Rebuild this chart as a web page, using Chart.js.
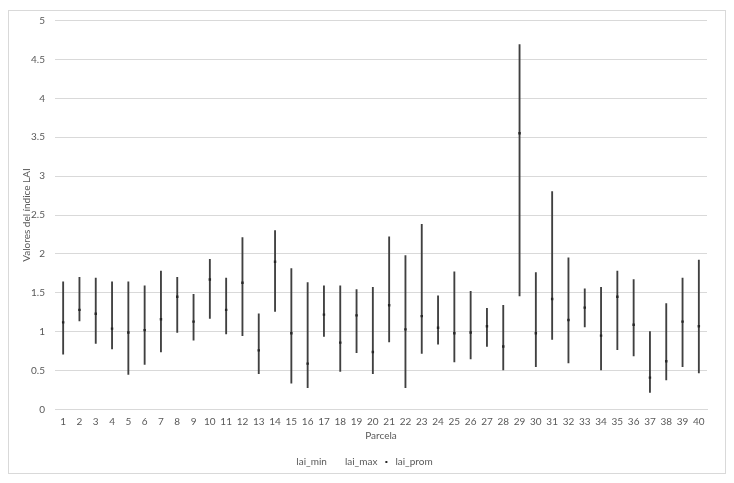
<!DOCTYPE html>
<html>
<head>
<meta charset="utf-8">
<script src="https://cdn.jsdelivr.net/npm/chart.js@4/dist/chart.umd.min.js"></script>
<style>
  html, body { margin: 0; padding: 0; background: #fff; }
  #frame {
    position: absolute; left: 8px; top: 10px;
    width: 716px; height: 462px;
    border: 1px solid #d9d9d9;
  }
  #chart { display: block; }
</style>
</head>
<body>
<div id="frame"><canvas id="chart" width="716" height="462"></canvas></div>
<script>
// parcelas 1..40
const parcelas = Array.from({ length: 40 }, (_, i) => String(i + 1));

const laiMin = [0.71, 1.14, 0.85, 0.78, 0.45, 0.58, 0.74, 0.99, 0.89, 1.17,
                0.97, 0.95, 0.46, 1.26, 0.34, 0.28, 0.94, 0.49, 0.73, 0.46,
                0.87, 0.28, 0.72, 0.84, 0.61, 0.65, 0.81, 0.51, 1.46, 0.55,
                0.90, 0.60, 1.06, 0.51, 0.77, 0.69, 0.22, 0.38, 0.55, 0.47];

const laiMax = [1.64, 1.70, 1.69, 1.64, 1.64, 1.59, 1.78, 1.70, 1.48, 1.93,
                1.69, 2.21, 1.23, 2.30, 1.81, 1.63, 1.59, 1.59, 1.54, 1.57,
                2.22, 1.98, 2.38, 1.46, 1.77, 1.52, 1.30, 1.34, 4.69, 1.76,
                2.80, 1.95, 1.55, 1.57, 1.78, 1.67, 1.00, 1.36, 1.69, 1.92];

const laiProm = [1.12, 1.28, 1.23, 1.04, 0.99, 1.02, 1.16, 1.45, 1.13, 1.67,
                 1.28, 1.63, 0.76, 1.90, 0.98, 0.59, 1.22, 0.86, 1.21, 0.74,
                 1.34, 1.03, 1.20, 1.05, 0.98, 0.99, 1.07, 0.81, 3.55, 0.98,
                 1.42, 1.15, 1.31, 0.95, 1.45, 1.09, 0.41, 0.62, 1.13, 1.07];

const textColor = '#595959';
const gridColor = '#d9d9d9';
const font = { family: 'Lato, "Open Sans", sans-serif', size: 10 };

const ctx = document.getElementById('chart').getContext('2d');

const chart = new Chart(ctx, {
  type: 'bar',
  data: {
    labels: parcelas,
    datasets: [
      {
        // high-low line from min to max
        type: 'bar',
        label: '',
        data: laiMin.map((v, i) => [v, laiMax[i]]),
        backgroundColor: '#404040',
        borderWidth: 0,
        barThickness: 1.2,
        order: 1
      },
      {
        type: 'line',
        label: 'lai_min',
        data: laiMin,
        showLine: false,
        pointRadius: 0,
        pointBackgroundColor: 'rgba(0,0,0,0)',
        pointBorderColor: 'rgba(0,0,0,0)',
        order: 0
      },
      {
        type: 'line',
        label: 'lai_max',
        data: laiMax,
        showLine: false,
        pointRadius: 0,
        pointBackgroundColor: 'rgba(0,0,0,0)',
        pointBorderColor: 'rgba(0,0,0,0)',
        order: 0
      },
      {
        type: 'line',
        label: 'lai_prom',
        data: laiProm,
        showLine: false,
        pointStyle: 'rect',
        pointRadius: 1.7,
        pointBorderWidth: 0,
        pointBackgroundColor: '#262626',
        pointBorderColor: '#262626',
        order: 0
      }
    ]
  },
  options: {
    responsive: false,
    animation: false,
    layout: {
      padding: { left: 0, top: 9.5, right: 18, bottom: -4 }
    },
    scales: {
      x: {
        offset: true,
        grid: { display: false, drawTicks: false },
        border: { display: true, color: gridColor },
        ticks: { color: textColor, font: font, padding: 6.5, maxRotation: 0, autoSkip: false },
        title: { display: true, text: 'Parcela', color: textColor, font: font, padding: { top: 2, bottom: 10 } },
        afterFit: scale => { scale.height = 42.5; }
      },
      y: {
        min: 0,
        max: 5,
        grid: { color: gridColor, drawTicks: false },
        border: { display: false },
        ticks: {
          stepSize: 0.5,
          color: textColor,
          font: font,
          padding: 10,
          callback: v => String(v)
        },
        title: { display: true, text: 'Valores del índice LAI', color: textColor, font: font, padding: { top: 12, bottom: 0 } },
        afterFit: scale => {
          scale.width = 46;
          scale.paddingTop = 0;
          scale.paddingBottom = 0;
        }
      }
    },
    plugins: {
      tooltip: { enabled: false },
      legend: {
        position: 'bottom',
        labels: {
          filter: item => item.text !== '',
          usePointStyle: true,
          boxWidth: 8,
          boxHeight: 2,
          padding: 5,
          color: textColor,
          font: font
        }
      }
    }
  }
});
</script>
</body>
</html>
